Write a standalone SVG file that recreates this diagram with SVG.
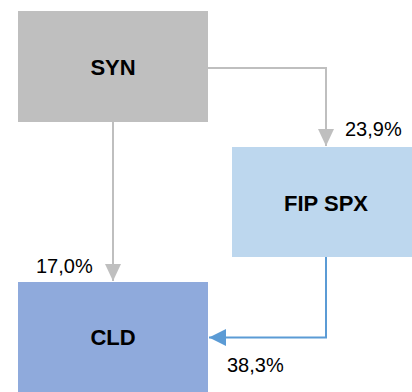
<svg xmlns="http://www.w3.org/2000/svg" width="412" height="392" viewBox="0 0 412 392">
  <style>
    .box { stroke: none; }
    .name { font-family: "Liberation Sans", Arial, sans-serif; font-weight: bold; font-size: 22px; fill: #000; text-anchor: middle; }
    .pct { font-family: "Liberation Sans", Arial, sans-serif; font-size: 20px; fill: #000; }
    .gray { fill: none; stroke: #bfbfbf; stroke-width: 2; }
    .blue { fill: none; stroke: #5b9bd5; stroke-width: 2; }
  </style>
  <defs>
    <filter id="soft" x="-10%" y="-10%" width="120%" height="130%">
      <feGaussianBlur in="SourceAlpha" stdDeviation="3"/>
      <feOffset dy="3"/>
      <feComponentTransfer><feFuncA type="linear" slope="0.18"/></feComponentTransfer>
      <feFlood flood-color="#6f8fc0"/>
      <feComposite operator="in" in2="SourceAlpha"/>
      <feMerge><feMergeNode/><feMergeNode in="SourceGraphic"/></feMerge>
    </filter>
    <marker id="headGray" markerUnits="userSpaceOnUse" markerWidth="18" markerHeight="18" viewBox="0 0 18 18" refX="17" refY="9" orient="auto">
      <path d="M0,1 L17,9 L0,17 Z" fill="#bfbfbf"/>
    </marker>
    <marker id="headBlue" markerUnits="userSpaceOnUse" markerWidth="18" markerHeight="18" viewBox="0 0 18 18" refX="17" refY="9" orient="auto">
      <path d="M0,0.5 L17,9 L0,17.5 Z" fill="#5b9bd5"/>
    </marker>
  </defs>

  <g id="connectors">
    <path class="gray" d="M208,68 H326 V146" marker-end="url(#headGray)"/>
    <path class="gray" d="M113,122 V281" marker-end="url(#headGray)"/>
    <path class="blue" d="M326,257 V337.5 H209" marker-end="url(#headBlue)"/>
    <text class="pct" x="345" y="135.5">23,9%</text>
    <text class="pct" x="36" y="272.5">17,0%</text>
    <text class="pct" x="227" y="371.5">38,3%</text>
  </g>

  <g id="syn">
    <rect class="box" x="18" y="11" width="190" height="111" fill="#bfbfbf" filter="url(#soft)"/>
    <text class="name" x="113" y="74.5">SYN</text>
  </g>

  <g id="fip-spx">
    <rect class="box" x="232" y="147" width="182" height="110" fill="#bdd7ee" filter="url(#soft)"/>
    <text class="name" x="326" y="210.5">FIP SPX</text>
  </g>

  <g id="cld">
    <rect class="box" x="18" y="282" width="190" height="112" fill="#8faadc"/>
    <text class="name" x="113" y="345">CLD</text>
  </g>
</svg>
